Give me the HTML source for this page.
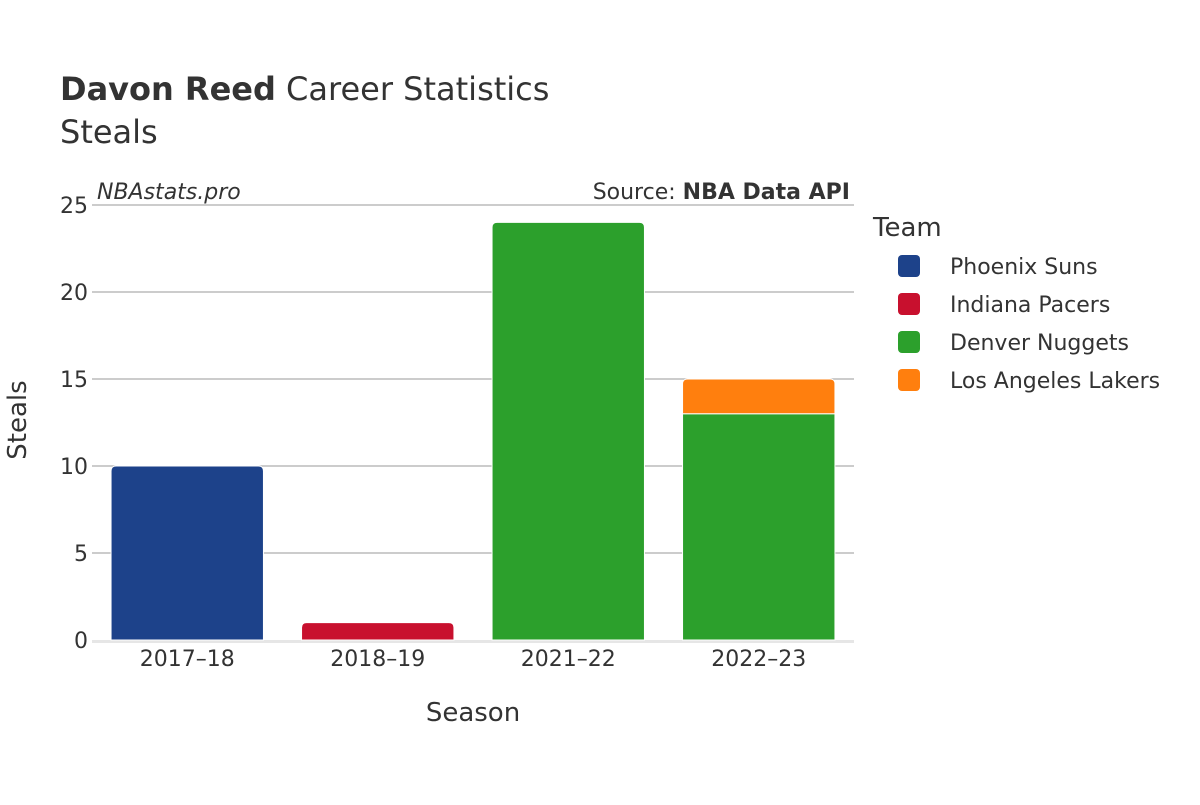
<!DOCTYPE html>
<html><head><meta charset="utf-8"><style>
body{margin:0;background:#fff;}
svg text{font-family:"DejaVu Sans","Liberation Sans",sans-serif;fill:#333;}
</style></head><body>
<svg width="1200" height="800" xmlns="http://www.w3.org/2000/svg">
<text x="60" y="100" font-size="32"><tspan font-weight="bold">Davon Reed</tspan> Career Statistics</text>
<text x="60" y="143" font-size="32">Steals</text>
<g id="grid"></g>
<text x="97" y="199" font-size="22" font-style="italic">NBAstats.pro</text>
<text x="850" y="199" font-size="22" text-anchor="end">Source: <tspan font-weight="bold">NBA Data API</tspan></text>
<g id="bars"></g>
<g id="xt"></g>
<text x="473" y="721" font-size="26" text-anchor="middle">Season</text>
<text x="26" y="420" font-size="26" text-anchor="middle" transform="rotate(-90 26 420)">Steals</text>
<text x="873" y="236" font-size="26">Team</text>
<g id="legend"></g>
</svg>
<script>
const seasons=["2017–18","2018–19","2021–22","2022–23"];
const teams=["Phoenix Suns","Indiana Pacers","Denver Nuggets","Los Angeles Lakers"];
const colors=["#1d428a","#c8102e","#2ca02c","#ff7f0e"];
const suns=[10,0,0,0];
const pacers=[0,1,0,0];
const nuggets=[0,0,24,13];
const lakers=[0,0,0,2];
const yTicks=[0,5,10,15,20,25];
const series=[suns,pacers,nuggets,lakers];
const NS="http://www.w3.org/2000/svg";
const x0=92,x1=854,y0=640,yTop=205,yMax=25;
const y=v=>y0-(y0-yTop)*v/yMax;
const band=(x1-x0)/seasons.length;
const xc=i=>x0+band*(i+0.5);
const bw=band*0.8;
function mk(tag,attrs,parent){const e=document.createElementNS(NS,tag);for(const k in attrs)e.setAttribute(k,attrs[k]);parent.appendChild(e);return e;}
const grid=document.getElementById('grid');
yTicks.forEach(t=>{
 if(t>0){const l=mk('line',{x1:x0,x2:x1,y1:y(t),y2:y(t),stroke:'#999','stroke-width':1},grid);
 
 }
 const tx=mk('text',{x:88,y:y(t)+8,'font-size':22,'text-anchor':'end'},grid);tx.textContent=t;
 
 
});
const zl=mk('line',{x1:x0,x2:x1,y1:y0+1.5,y2:y0+1.5,stroke:'#e6e6e6','stroke-width':3},grid);


const bars=document.getElementById('bars');
seasons.forEach((s,i)=>{
 let base=0;
 const top=series.reduce((m,sr,k)=>sr[i]>0?k:m,-1);
 series.forEach((sr,k)=>{
  const v=sr[i]; if(v<=0)return;
  const yb=y(base),yt=y(base+v),xl=xc(i)-bw/2,w=bw,h=yb-yt,r=k===top?5:0;
  const d=`M${xl},${yb}V${yt+r}Q${xl},${yt} ${xl+r},${yt}H${xl+w-r}Q${xl+w},${yt} ${xl+w},${yt+r}V${yb}Z`;
  const p=mk('path',{d:d,fill:colors[k],stroke:'#fff','stroke-width':1},bars);
  
  
  base+=v;
 });
 const t=mk('text',{x:xc(i),y:666,'font-size':22,'text-anchor':'middle'},document.getElementById('xt'));
 t.textContent=s;
 
 
});
const lg=document.getElementById('legend');
teams.forEach((tm,k)=>{
 const g=mk('g',{},lg);
 
 
 const yy=266+k*38;
 mk('rect',{x:898,y:yy-11,width:22,height:22,rx:4,fill:colors[k]},g);
 const t=mk('text',{x:950,y:yy+8,'font-size':22},g);t.textContent=tm;
});
</script>
</body></html>
